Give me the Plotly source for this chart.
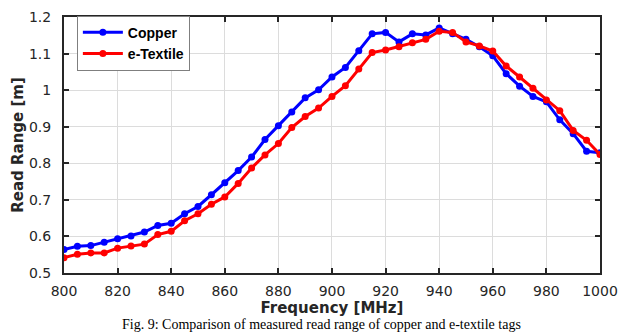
import plotly.graph_objects as go

freq = list(range(800, 1001, 5))

copper = [0.564, 0.573, 0.575, 0.584, 0.594, 0.601, 0.612, 0.630, 0.636, 0.662,
          0.682, 0.714, 0.747, 0.780, 0.817, 0.865, 0.903, 0.940, 0.979, 1.001,
          1.036, 1.062, 1.108, 1.154, 1.158, 1.132, 1.154, 1.151, 1.170, 1.154,
          1.139, 1.119, 1.094, 1.045, 1.011, 0.983, 0.968, 0.919, 0.881, 0.833,
          0.829]

etextile = [0.542, 0.551, 0.555, 0.555, 0.568, 0.574, 0.579, 0.605, 0.614, 0.643,
            0.662, 0.688, 0.708, 0.745, 0.787, 0.823, 0.854, 0.898, 0.928, 0.951,
            0.983, 1.012, 1.058, 1.103, 1.110, 1.119, 1.130, 1.139, 1.161, 1.158,
            1.132, 1.121, 1.107, 1.066, 1.036, 1.005, 0.973, 0.944, 0.890, 0.863,
            0.824]

x_ticks = list(range(800, 1001, 20))
y_ticks = [0.5, 0.6, 0.7, 0.8, 0.9, 1.0, 1.1, 1.2]
y_tick_labels = ["0.5", "0.6", "0.7", "0.8", "0.9", "1", "1.1", "1.2"]

series_names = ["Copper", "e-Textile"]
caption = "Fig. 9: Comparison of measured read range of copper and e-textile tags"

fig = go.Figure()
fig.add_trace(go.Scatter(x=freq, y=copper, mode="lines+markers", name=series_names[0],
                         line=dict(color="#0000ff", width=3),
                         marker=dict(color="#0000ff", size=7, symbol="circle")))
fig.add_trace(go.Scatter(x=freq, y=etextile, mode="lines+markers", name=series_names[1],
                         line=dict(color="#ff0000", width=3),
                         marker=dict(color="#ff0000", size=7, symbol="circle")))

axis_common = dict(showline=True, linecolor="#262626", linewidth=2, mirror="ticks",
                   ticks="inside", ticklen=5, tickwidth=1.5, tickcolor="#262626",
                   showgrid=True, gridcolor="#dcdcdc", gridwidth=1, zeroline=False,
                   tickfont=dict(family="DejaVu Sans", size=14, color="#262626"))

fig.update_xaxes(range=[800, 1000.01], tickvals=x_ticks, ticklabelstandoff=4,
                 title=dict(text="<b>Frequency [MHz]</b>", standoff=4,
                            font=dict(family="DejaVu Sans", size=15, color="#262626")),
                 **axis_common)
fig.update_yaxes(range=[0.5, 1.2001], tickvals=y_ticks, ticktext=y_tick_labels,
                 ticklabelstandoff=8,
                 title=dict(text="<b>Read Range [m]</b>", standoff=2,
                            font=dict(family="DejaVu Sans", size=15, color="#262626")),
                 **axis_common)

fig.update_layout(
    width=644, height=336,
    margin=dict(l=64, r=44, t=9, b=63),
    plot_bgcolor="white", paper_bgcolor="white",
    legend=dict(x=0.024, y=1.005, xanchor="left", yanchor="top",
                bgcolor="white", bordercolor="#7f7f7f", borderwidth=1,
                font=dict(family="Liberation Sans, Arial", size=14, color="black", weight="bold"),
                tracegroupgap=0, itemwidth=40),
    showlegend=True,
    annotations=[dict(text=caption, xref="paper", yref="paper",
                      x=0.48, y=-0.239, xanchor="center", yanchor="bottom",
                      showarrow=False,
                      font=dict(family="Liberation Serif, Times New Roman", size=14, color="black"))],
)

fig.write_html("out.html", config={"displayModeBar": False},
               post_script="document.body.style.margin='0';")
